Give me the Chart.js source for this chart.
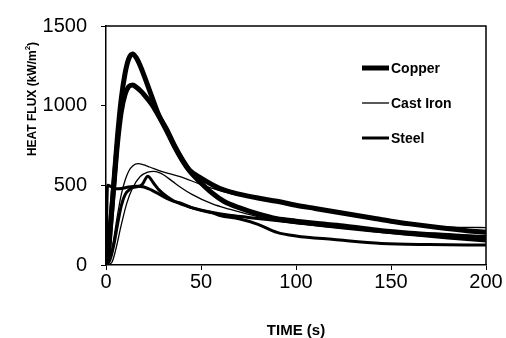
<!DOCTYPE html>
<html>
<head>
<meta charset="utf-8">
<script src="https://cdn.jsdelivr.net/npm/chart.js@4.4.1/dist/chart.umd.min.js"></script>
<style>
  html, body { margin: 0; padding: 0; background: #fff; }
  #wrap { width: 506px; height: 338px; }
</style>
</head>
<body>
<div id="wrap"><canvas id="fluxChart" width="506" height="338"></canvas></div>
<script>
// Tick labels
const xTicks = [0, 50, 100, 150, 200];
const yTicks = [0, 500, 1000, 1500];

// Copper (two runs)
const copperATime = [0, 1, 2, 4, 6, 8, 10, 12, 14, 16, 18, 20, 24, 28, 32, 36, 40, 44, 50, 60, 70, 80, 90, 100, 110, 125, 140, 150, 160, 175, 190, 200];
const copperAFlux = [0, 40, 180, 500, 800, 1040, 1200, 1295, 1325, 1300, 1250, 1190, 1060, 935, 850, 750, 665, 595, 545, 480, 445, 420, 400, 375, 355, 325, 295, 275, 258, 235, 215, 205];
const copperBTime = [0, 1, 2, 4, 6, 8, 10, 12, 14, 16, 18, 20, 24, 28, 32, 36, 40, 44, 50, 56, 62, 70, 80, 90, 100, 110, 125, 145, 160, 180, 200];
const copperBFlux = [0, 50, 200, 480, 760, 960, 1070, 1120, 1130, 1115, 1095, 1070, 1010, 930, 840, 745, 660, 590, 515, 450, 400, 360, 320, 290, 275, 262, 245, 215, 200, 185, 170];

// Cast iron (two runs)
const castIronATime = [0, 1, 2, 4, 6, 8, 10, 12, 14, 17, 20, 23, 30, 39, 50, 56, 65, 81, 100, 120, 140, 160, 175, 190, 200];
const castIronAFlux = [0, 10, 40, 160, 310, 440, 530, 590, 622, 636, 628, 615, 585, 555, 505, 481, 450, 413, 370, 330, 290, 258, 240, 236, 235];
const castIronBTime = [0, 3, 5, 8, 11, 14, 18, 22, 25, 28, 30, 35, 39, 45, 56, 65, 74, 85, 97, 110, 125, 145, 170, 200];
const castIronBFlux = [0, 15, 90, 250, 390, 483, 555, 583, 588, 580, 568, 525, 490, 445, 383, 350, 321, 290, 265, 248, 230, 210, 195, 185];

// Steel (two runs)
const steelATime = [0, 0.8, 3, 5, 8, 12, 16, 20, 24, 28, 32, 36, 39, 45, 50, 56, 60, 70, 80, 90, 100, 120, 145, 170, 200];
const steelAFlux = [0, 500, 490, 478, 480, 490, 495, 490, 470, 445, 418, 398, 389, 360, 343, 327, 310, 290, 255, 205, 182, 160, 135, 128, 125];
const steelBTime = [0, 2, 4, 6, 8, 10, 13, 16, 19, 22, 25, 28, 32, 36, 40, 45, 56, 65, 74, 85, 97, 110, 125, 144, 160, 180, 200];
const steelBFlux = [0, 30, 120, 250, 370, 440, 480, 490, 505, 557, 515, 470, 430, 400, 380, 360, 330, 312, 300, 285, 270, 252, 232, 210, 192, 170, 150];

const seriesNames = ['Copper', 'Cast Iron', 'Steel'];
const seriesWidths = [5, 1.3, 3];

function toPoints(times, flux) {
    return times.map((t, i) => ({ x: t, y: flux[i] }));
}

function makeSet(label, times, flux, width, showInLegend) {
    return {
        label: label,
        data: toPoints(times, flux),
        borderColor: '#000',
        borderWidth: width,
        pointRadius: 0,
        fill: false,
        cubicInterpolationMode: 'monotone',
        inLegend: showInLegend
    };
}

const datasets = [
    makeSet(seriesNames[0], copperATime, copperAFlux, seriesWidths[0], true),
    makeSet(seriesNames[0], copperBTime, copperBFlux, seriesWidths[0], false),
    makeSet(seriesNames[1], castIronATime, castIronAFlux, seriesWidths[1], true),
    makeSet(seriesNames[1], castIronBTime, castIronBFlux, seriesWidths[1], false),
    makeSet(seriesNames[2], steelATime, steelAFlux, seriesWidths[2], true),
    makeSet(seriesNames[2], steelBTime, steelBFlux, seriesWidths[2], false)
];

const FONT = "'Liberation Sans', Arial, sans-serif";

// Box around the plot, y axis title and the legend inside the plot
const extrasPlugin = {
    id: 'extras',
    afterDraw(chart) {
        const ctx = chart.ctx;
        const a = chart.chartArea;
        ctx.save();
        ctx.strokeStyle = '#000';
        ctx.lineWidth = 1.5;
        ctx.beginPath();
        ctx.moveTo(a.left, a.top);
        ctx.lineTo(a.right, a.top);
        ctx.lineTo(a.right, a.bottom);
        ctx.stroke();

        // y title, rotated, with superscript 2
        ctx.fillStyle = '#000';
        ctx.translate(33, 99);
        ctx.rotate(-Math.PI / 2);
        ctx.textBaseline = 'middle';
        const main = 'HEAT FLUX (kW/m';
        ctx.font = 'bold 12px ' + FONT;
        const w1 = ctx.measureText(main).width;
        ctx.font = 'bold 8px ' + FONT;
        const w2 = ctx.measureText('2').width;
        ctx.font = 'bold 12px ' + FONT;
        const w3 = ctx.measureText(')').width;
        let x0 = -(w1 + w2 + w3) / 2;
        ctx.textAlign = 'left';
        ctx.fillText(main, x0, 0);
        ctx.font = 'bold 8px ' + FONT;
        ctx.fillText('2', x0 + w1, -5);
        ctx.font = 'bold 12px ' + FONT;
        ctx.fillText(')', x0 + w1 + w2, 0);
        ctx.restore();

        // legend
        ctx.save();
        ctx.font = 'bold 14px ' + FONT;
        ctx.fillStyle = '#000';
        ctx.strokeStyle = '#000';
        ctx.textBaseline = 'middle';
        const items = chart.data.datasets.filter(d => d.inLegend);
        items.forEach((d, i) => {
            const y = 68 + i * 35;
            ctx.lineWidth = d.borderWidth;
            ctx.beginPath();
            ctx.moveTo(362, y);
            ctx.lineTo(389, y);
            ctx.stroke();
            ctx.fillText(d.label, 391, y + 1);
        });
        ctx.restore();
    }
};

new Chart(document.getElementById('fluxChart'), {
    type: 'line',
    data: { datasets: datasets },
    options: {
        responsive: false,
        animation: false,
        devicePixelRatio: 1,
        layout: { padding: { top: 22, right: 20, bottom: 0, left: 0 } },
        plugins: {
            legend: { display: false },
            tooltip: { enabled: false }
        },
        scales: {
            x: {
                type: 'linear',
                min: 0,
                max: 200,
                border: { color: '#000', width: 1.5 },
                grid: { drawOnChartArea: false, drawTicks: true, tickLength: 5, color: '#000' },
                afterBuildTicks: s => { s.ticks = xTicks.map(v => ({ value: v })); },
                afterFit: s => { s.height = 73; },
                ticks: {
                    color: '#000',
                    padding: 0,
                    maxRotation: 0,
                    autoSkip: false,
                    font: { family: FONT, size: 20 },
                    callback: v => String(v)
                },
                title: {
                    display: true,
                    text: 'TIME (s)',
                    color: '#000',
                    padding: 0,
                    font: { family: FONT, size: 15, weight: 'bold', lineHeight: 1 }
                }
            },
            y: {
                min: 0,
                max: 1500,
                border: { color: '#000', width: 1.5 },
                grid: { drawOnChartArea: false, drawTicks: true, tickLength: 5, color: '#000' },
                afterBuildTicks: s => { s.ticks = yTicks.map(v => ({ value: v })); },
                afterFit: s => { s.width = 106; },
                ticks: {
                    color: '#000',
                    padding: 14,
                    font: { family: FONT, size: 20 },
                    callback: v => String(v)
                }
            }
        }
    },
    plugins: [extrasPlugin]
});
</script>
</body>
</html>
